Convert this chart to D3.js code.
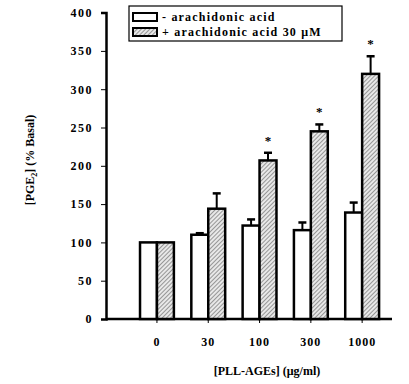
<!DOCTYPE html>
<html><head><meta charset="utf-8">
<script src="https://cdn.jsdelivr.net/npm/d3@7"></script>
<style>body{margin:0;background:#fff}svg text{font-family:"Liberation Serif","DejaVu Serif",serif;font-weight:bold;fill:#000}</style>
</head><body><svg id="c" width="409" height="384"></svg>
<script>
const categories = ["0", "30", "100", "300", "1000"];
const seriesNames = ["- arachidonic acid", "+ arachidonic acid 30 \u03bcM"];
const withoutAA = [100, 110, 122, 116, 139];
const withoutAAErr = [0, 2, 8, 10, 13];
const withAA = [100, 144, 207, 245, 320];
const withAAErr = [0, 20, 10, 9, 23];
const significant = [false, false, true, true, true];
const yTicks = [0, 50, 100, 150, 200, 250, 300, 350, 400];

const svg = d3.select("#c");
const defs = svg.append("defs");
const pat = defs.append("pattern").attr("id","hatch").attr("patternUnits","userSpaceOnUse")
  .attr("width",3).attr("height",3).attr("patternTransform","rotate(45)");
pat.append("rect").attr("width",3).attr("height",3).attr("fill","#e8e8e8");
pat.append("line").attr("x1",0).attr("y1",0).attr("x2",0).attr("y2",3).attr("stroke","#444").attr("stroke-width",1);

const y = d3.scaleLinear().domain([0,400]).range([319,12.6]);
const x = d3.scaleBand().domain(categories).range([131.3,387.8]).paddingInner(0.34).paddingOuter(0.17);
const xs = d3.scaleBand().domain([0,1]).range([0,x.bandwidth()]);

// axes
const ya = svg.append("g").attr("transform","translate(106,0)")
  .call(d3.axisLeft(y).tickValues(yTicks).tickSize(5).tickPadding(8));
ya.select(".domain").attr("stroke","#000").attr("stroke-width",2.5);
ya.selectAll(".tick line").attr("stroke","#000");
ya.selectAll("text").attr("font-size",12).attr("letter-spacing","1.5px").attr("fill","#000").attr("font-family","Liberation Serif").attr("font-weight","bold");

const xa = svg.append("g").attr("transform","translate(0,319)")
  .call(d3.axisBottom(x).tickSize(4).tickPadding(14));
xa.select(".domain").attr("d","M106,0H392").attr("stroke","#000").attr("stroke-width",2.5);
xa.selectAll(".tick line").attr("stroke","#000");
xa.selectAll("text").attr("font-size",12).attr("letter-spacing","1px").attr("fill","#000").attr("font-family","Liberation Serif").attr("font-weight","bold");

const series = [
  {vals: withoutAA, err: withoutAAErr, fill: "#fff"},
  {vals: withAA, err: withAAErr, fill: "url(#hatch)"}
];
series.forEach((s, si) => {
  const g = svg.append("g");
  categories.forEach((c, i) => {
    const x0 = x(c) + xs(si), w = xs.bandwidth();
    const v = s.vals[i], e = s.err[i];
    if (e > 0) {
      g.append("line").attr("x1",x0+w/2).attr("x2",x0+w/2).attr("y1",y(v)).attr("y2",y(v+e)).attr("stroke","#000").attr("stroke-width",2);
      g.append("line").attr("x1",x0+w/2-4).attr("x2",x0+w/2+4).attr("y1",y(v+e)).attr("y2",y(v+e)).attr("stroke","#000").attr("stroke-width",2.5);
    }
    g.append("rect").attr("x",x0).attr("y",y(v)).attr("width",w).attr("height",y(0)-y(v))
      .attr("fill",s.fill).attr("stroke","#000").attr("stroke-width",2.5);
    if (si===1 && significant[i]) {
      g.append("text").attr("x",x0+w/2).attr("y",y(v+e)-8).attr("text-anchor","middle")
        .attr("font-size",13).attr("fill","#000").text("*");
    }
  });
});

// legend
const lg = svg.append("g");
lg.append("rect").attr("x",129).attr("y",6).attr("width",213).attr("height",35).attr("fill","#fff").attr("stroke","#000").attr("stroke-width",1.2);
seriesNames.forEach((n,i) => {
  const yy = 13 + i*15;
  lg.append("rect").attr("x",133).attr("y",yy).attr("width",24).attr("height",8)
    .attr("fill", i===0 ? "#fff" : "url(#hatch)").attr("stroke","#000").attr("stroke-width",2);
  lg.append("text").attr("x",162).attr("y",yy+8).attr("font-size",12).attr("letter-spacing","1.2px").attr("fill","#000").text(n);
});

// titles
svg.append("text").attr("transform","translate(34,160) rotate(-90)").attr("text-anchor","middle").attr("font-size",12).attr("fill","#000")
  .call(t => { t.append("tspan").text("[PGE"); t.append("tspan").attr("font-size",8).attr("dy",3).text("2"); t.append("tspan").attr("dy",-3).text("] (% Basal)"); });
svg.append("text").attr("x",267).attr("y",375).attr("text-anchor","middle").attr("font-size",12).attr("fill","#000").text("[PLL-AGEs] (\u03bcg/ml)");
</script></body></html>
